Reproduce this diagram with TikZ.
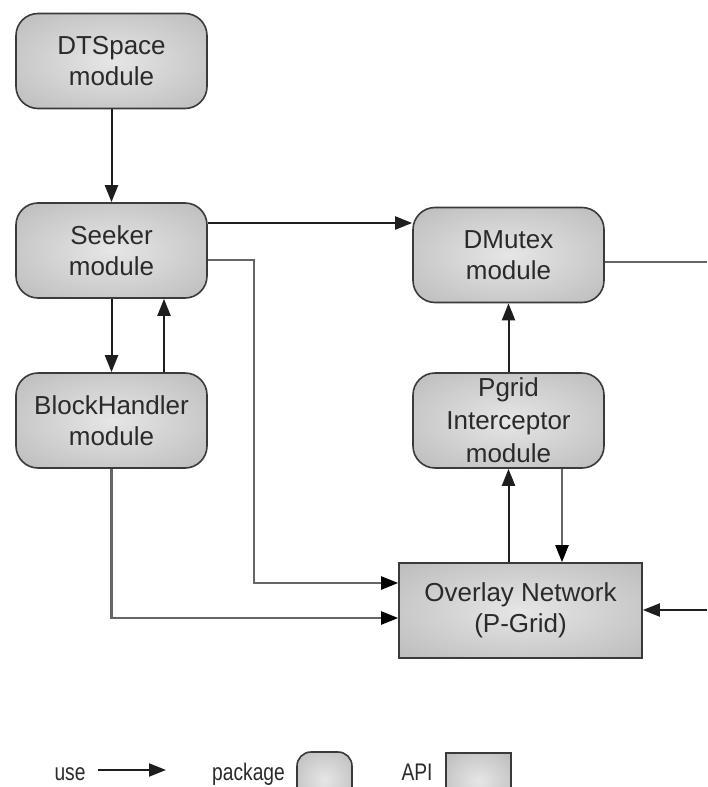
\documentclass[tikz,border=0pt]{standalone}
\usepackage{fontspec}
\setmainfont{Liberation Sans}
\usetikzlibrary{arrows.meta,shadings}
\definecolor{bordc}{HTML}{3A3A3A}
\definecolor{txtc}{HTML}{2A2A2A}
\definecolor{lineblk}{HTML}{1E1E1E}
\definecolor{linegry}{HTML}{666666}
\definecolor{fillin}{HTML}{E6E6E6}
\definecolor{fillout}{HTML}{ABABAB}
\pgfdeclareradialshading{boxshade}{\pgfpoint{0bp}{0bp}}{color(0bp)=(fillin); color(50bp)=(fillout); color(72bp)=(fillout)}
\tikzset{
  pkg/.style={draw=bordc, line width=1.6pt, rounded corners=22pt, shading=boxshade,
    minimum width=191pt, minimum height=95pt, align=center, text=txtc,
    font=\fontsize{26}{31}\selectfont},
  apibox/.style={draw=bordc, line width=1.6pt, shading=boxshade,
    minimum width=243pt, minimum height=95pt, align=center, text=txtc,
    font=\fontsize{26}{31}\selectfont},
  conn/.style={line width=2pt, draw=lineblk, -{Triangle[length=17pt,width=13pt]}},
  conng/.style={line width=2.2pt, draw=linegry, -{Triangle[length=17pt,width=13pt,color=black,fill=black]}},
  plain/.style={line width=2.2pt, draw=linegry},
  legtxt/.style={text=txtc, font=\fontsize{24}{28}\selectfont, inner sep=0pt},
}
\begin{document}
\begin{tikzpicture}[x=1pt,y=-1pt]
\useasboundingbox (0,0) rectangle (707,787);
\clip (0,0) rectangle (707,787);
\node[pkg] (dts) at (111.5,61) {DTSpace\\module};
\node[pkg] (seek) at (111.5,250.5) {Seeker\\module};
\node[pkg] (bh) at (111.5,420.5) {BlockHandler\\module};
\node[pkg] (dmx) at (508.5,255) {DMutex\\module};
\node[pkg, font=\fontsize{26}{33}\selectfont] (pgi) at (508.5,420.5) {Pgrid\\Interceptor\\module};
\node[apibox] (ovl) at (520.5,610.5) {Overlay Network\\(P-Grid)};
\coordinate (rtop) at (707,262);
\coordinate (rbot) at (707,610);
% connectors
\draw[conn] (dts.south) -- (seek.north);
\draw[conn] (seek.south) -- (bh.north);
\draw[conn] ([xshift=52.5pt]bh.north) -- ([xshift=52.5pt]seek.south);
\draw[conn] ([yshift=27.5pt]seek.east) -- ([yshift=27.5pt]seek.east -| dmx.west);
\draw[conng] ([yshift=-9.5pt]seek.east) -| (254,583) -- (254,583 -| ovl.west);
\draw[conng] (bh.south) |- ([yshift=-7.5pt]ovl.west);
\draw[conn] (ovl.north -| pgi.south) -- (pgi.south);
\draw[conng] ([xshift=53.5pt]pgi.south) -- ([xshift=53.5pt]pgi.south |- ovl.north);
\draw[conn] (pgi.north) -- (dmx.south);
\draw[plain] (rtop -| dmx.east) -- (rtop);
\draw[conn] (rbot) -- (rbot -| ovl.east);
% legend
\node[legtxt, anchor=base] (luse) at (70,780) {\scalebox{0.8}[1]{use}};
\coordinate (la) at (98,770);
\coordinate (lb) at (166,770);
\draw[conn] (la) -- (lb);
\node[legtxt, anchor=base] (lpkg) at (248.5,780) {\scalebox{0.8}[1]{package}};
\node[draw=bordc, line width=1.6pt, rounded corners=14pt, shading=boxshade,
  minimum width=55pt, minimum height=56pt] (lpbox) at (324.5,780) {};
\node[legtxt, anchor=base] (lapi) at (417,780) {\scalebox{0.8}[1]{API}};
\node[draw=bordc, line width=1.6pt, shading=boxshade,
  minimum width=65pt, minimum height=56pt] (labox) at (478.5,781) {};
\end{tikzpicture}
\end{document}
